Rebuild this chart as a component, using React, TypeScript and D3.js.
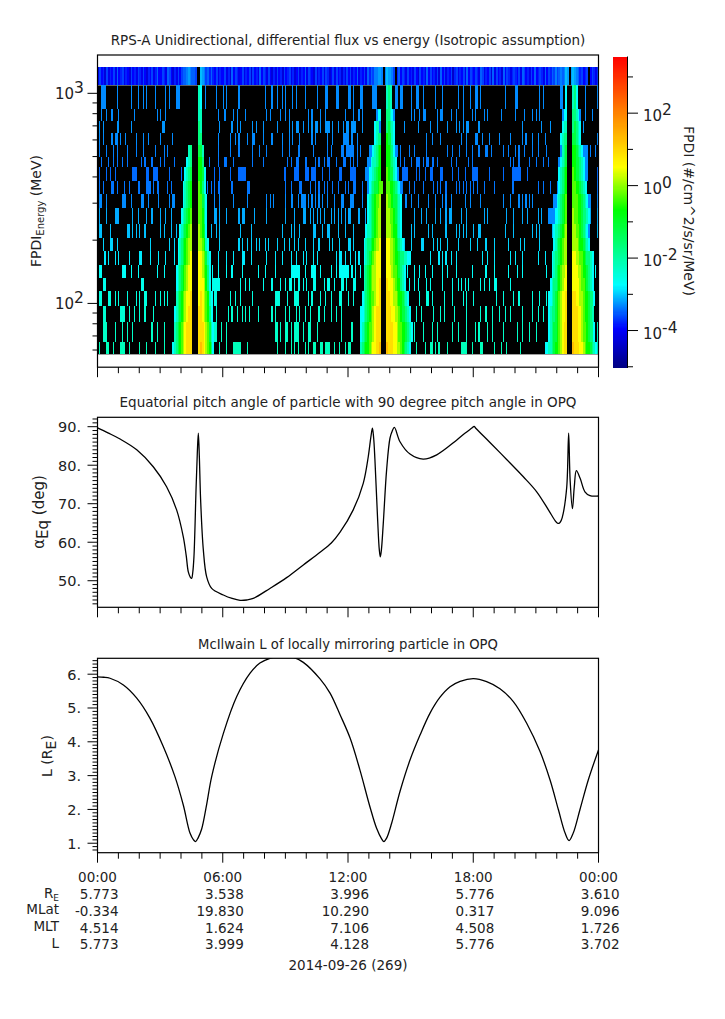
import * as d3 from 'd3'

// time axis, hours of day
const hourTicks = d3.range(0, 25)
const timeLabels = ['00:00', '06:00', '12:00', '18:00', '00:00']
const ephemLabels = ['MLat', 'MLT', 'L']
const ephemRe = ['5.773', '3.538', '3.996', '5.776', '3.610']
const ephemMLat = ['-0.334', '19.830', '10.290', '0.317', '9.096']
const ephemMLT = ['4.514', '1.624', '7.106', '4.508', '1.726']
const ephemL = ['5.773', '3.999', '4.128', '5.776', '3.702']

// energy channel edges in MeV, top to bottom
const energyEdges = [1330, 1091, 839, 736, 645, 566, 496, 444, 381, 330, 283, 240, 204, 177, 153, 131.6, 114, 96.8, 81.2, 65.2, 57.2]
const energyMajor = [1000, 100]
const energyMinor = [900, 800, 700, 600, 500, 400, 300, 200, 90, 80, 70, 60]

// top channel, one char per 5 min bin, per hour
const topChannel = [
  '253415243526', '345243153425', '425314352463', '354265314253', '566787665..9', '875646435243',
  '352416354235', '243515342635', '425314253415', '345241352436', '254315243525', '413525341425',
  '352436243526', '46577887.798', '875.46354253', '425315342635', '342516352435', '045243526354',
  '354265243516', '253416354245', '435265342536', '345426354657', '5676798.8987', '645345.35425',
].join('')

// log10 flux of a single count spike in channels 1..19
const rowFlux = [-3.3, -3.3, -3.25, -3.3, -3.35, -3.4, -3.45, -3.4, -3.3, -3.15, -3.05, -2.95, -2.85, -2.7, -2.6, -2.5, -2.4, -2.3, -2.2]

// 5 min bins holding a count, channels 1..19
const spikeBins: number[][] = [
  [2, 3, 4, 11, 19, 23, 26, 28, 33, 39, 41, 45, 46, 47, 62, 68, 72, 74, 81, 96, 100, 103, 106, 108, 114, 112, 119, 126, 131, 132, 137, 138, 144, 147, 145, 151, 152, 158, 159, 160, 171, 172, 174, 175, 180, 183, 184, 187, 194, 198, 207, 210, 214, 217, 218, 220, 234, 240, 241, 254, 256, 266, 267, 280, 287],
  [2, 5, 8, 12, 21, 34, 36, 39, 69, 73, 78, 80, 85, 97, 99, 105, 108, 110, 121, 123, 128, 131, 142, 147, 150, 152, 180, 182, 185, 187, 188, 195, 197, 198, 203, 206, 210, 215, 217, 222, 224, 232, 240, 245, 250, 252, 254, 280, 284],
  [1, 3, 11, 12, 19, 37, 38, 70, 77, 80, 82, 89, 91, 95, 103, 112, 114, 110, 115, 118, 121, 123, 125, 126, 128, 131, 132, 133, 135, 138, 141, 144, 147, 143, 146, 148, 152, 176, 184, 191, 195, 201, 206, 208, 210, 212, 213, 219, 244, 255, 260, 279],
  [1, 3, 8, 10, 11, 13, 16, 22, 26, 29, 36, 43, 69, 76, 79, 81, 86, 89, 90, 95, 100, 106, 112, 110, 116, 123, 125, 132, 135, 141, 142, 143, 144, 146, 149, 189, 192, 197, 209, 212, 217, 218, 221, 225, 231, 237, 244, 246, 250, 253, 257, 287],
  [1, 5, 9, 11, 17, 22, 26, 33, 38, 40, 69, 76, 81, 89, 93, 97, 106, 110, 115, 116, 124, 132, 134, 141, 143, 145, 146, 147, 140, 144, 149, 151, 172, 174, 179, 182, 189, 201, 204, 208, 212, 215, 219, 223, 224, 226, 233, 236, 240, 242, 245, 250, 253, 258, 283, 286],
  [2, 6, 9, 11, 14, 17, 25, 27, 31, 36, 38, 44, 64, 69, 73, 74, 78, 89, 95, 109, 111, 114, 115, 119, 120, 125, 127, 130, 132, 133, 137, 141, 145, 142, 147, 149, 174, 176, 180, 183, 184, 185, 187, 189, 190, 192, 193, 195, 203, 206, 213, 215, 237, 239, 242, 248, 252, 256, 259],
  [1, 5, 7, 10, 20, 21, 22, 28, 29, 32, 33, 34, 41, 48, 67, 70, 76, 81, 82, 83, 84, 85, 107, 108, 113, 114, 115, 119, 120, 121, 123, 124, 125, 129, 133, 139, 145, 146, 147, 140, 148, 175, 176, 177, 178, 183, 185, 188, 191, 192, 197, 198, 204, 207, 211, 215, 216, 217, 218, 225, 233, 238, 239, 240, 241, 242, 243, 247, 287],
  [1, 3, 8, 9, 11, 15, 18, 23, 24, 28, 29, 30, 32, 34, 35, 40, 42, 63, 65, 67, 69, 70, 77, 86, 87, 108, 111, 116, 117, 122, 125, 127, 130, 132, 135, 138, 142, 144, 147, 148, 152, 174, 175, 179, 182, 187, 193, 195, 197, 200, 206, 208, 210, 212, 214, 216, 218, 222, 228, 238, 239, 253, 256, 260, 287],
  [1, 2, 5, 14, 15, 16, 19, 25, 26, 29, 35, 41, 43, 44, 67, 70, 78, 86, 97, 99, 101, 108, 111, 112, 115, 117, 118, 119, 121, 123, 125, 127, 129, 132, 136, 140, 145, 147, 141, 146, 152, 177, 180, 184, 190, 194, 198, 200, 203, 211, 214, 220, 233, 237, 242, 244, 246, 248, 250, 283, 287],
  [1, 5, 10, 11, 12, 20, 23, 28, 31, 36, 39, 42, 67, 68, 70, 74, 81, 83, 84, 90, 97, 108, 113, 118, 119, 122, 124, 126, 128, 130, 134, 136, 138, 142, 145, 140, 144, 150, 154, 182, 186, 189, 194, 197, 200, 202, 203, 209, 212, 222, 224, 235, 239, 244, 247, 253, 255, 260, 261, 262, 283, 287],
  [1, 2, 7, 17, 18, 20, 22, 24, 27, 36, 38, 42, 45, 65, 68, 70, 82, 88, 106, 111, 113, 116, 124, 125, 129, 132, 133, 138, 142, 147, 180, 182, 190, 192, 200, 206, 208, 210, 212, 216, 219, 220, 234, 239, 250, 252, 254, 261, 287],
  [3, 7, 8, 11, 30, 41, 44, 70, 81, 83, 86, 88, 91, 93, 96, 98, 103, 107, 110, 115, 113, 119, 124, 127, 133, 135, 139, 144, 147, 145, 176, 180, 186, 187, 193, 195, 197, 201, 207, 214, 218, 223, 228, 236, 243, 245, 254],
  [4, 6, 10, 12, 18, 24, 25, 30, 35, 39, 44, 69, 74, 78, 83, 84, 88, 97, 102, 106, 111, 114, 118, 120, 124, 126, 137, 139, 142, 145, 140, 148, 150, 153, 191, 196, 198, 200, 203, 206, 221, 224, 228, 237, 240, 244, 253, 257],
  [1, 2, 14, 15, 16, 19, 23, 34, 38, 66, 69, 74, 77, 83, 92, 96, 102, 112, 113, 114, 115, 116, 111, 119, 123, 124, 125, 128, 134, 137, 141, 142, 143, 146, 139, 140, 144, 148, 151, 178, 182, 185, 188, 192, 198, 201, 206, 215, 223, 228, 236, 241, 244, 258, 286],
  [3, 4, 25, 26, 66, 67, 68, 69, 70, 82, 85, 87, 95, 100, 105, 108, 113, 115, 110, 111, 116, 118, 120, 124, 125, 130, 132, 133, 136, 141, 143, 147, 140, 148, 179, 182, 184, 189, 191, 198, 204, 207, 209, 211, 213, 220, 222, 225, 228, 229, 237],
  [1, 2, 6, 7, 10, 12, 17, 22, 24, 27, 28, 33, 36, 38, 40, 67, 68, 76, 79, 82, 89, 102, 103, 104, 113, 109, 114, 115, 121, 123, 128, 131, 134, 139, 144, 140, 147, 185, 189, 190, 192, 199, 204, 210, 212, 216, 229, 233, 239, 242, 250, 254, 258],
  [3, 4, 13, 14, 15, 18, 21, 24, 27, 32, 68, 75, 77, 80, 83, 85, 87, 92, 100, 102, 108, 114, 110, 116, 119, 122, 127, 130, 134, 137, 140, 183, 186, 193, 197, 199, 205, 212, 220, 223, 227, 231, 234, 237, 244, 250, 253, 256],
  [3, 4, 5, 10, 14, 17, 20, 31, 34, 38, 67, 68, 71, 74, 102, 103, 105, 111, 113, 108, 109, 114, 115, 118, 121, 122, 126, 140, 146, 182, 187, 192, 195, 204, 207, 212, 217, 219, 224, 227, 233, 241, 244, 248, 252, 287],
  [1, 5, 6, 9, 13, 14, 15, 18, 24, 28, 33, 38, 70, 74, 78, 79, 80, 81, 82, 86, 103, 111, 113, 108, 115, 119, 121, 124, 125, 128, 129, 131, 132, 133, 136, 139, 142, 145, 144, 183, 188, 191, 192, 194, 196, 201, 209, 210, 211, 212, 215, 220, 221, 228, 232, 235, 243, 287],
]

// log10 flux for the letters used in the belt runs
const beltLevels: Record<string, number> = { a: -3.3, b: -2.75, c: -2.2, d: -1.7, e: -1.2, f: -0.7, g: -0.3, h: 0.1, i: 0.5, j: 0.9, k: 1.3, l: 1.7 }

// radiation belt passes, [first bin, levels] for channels 1..19
const beltRuns: [number, string][][] = [
  [[58, 'cb'], [166, 'cdc'], [269, 'b'], [273, 'cdb']],
  [[58, 'cc'], [160, 'abb'], [166, 'ddcba'], [267, 'abb'], [273, 'ddcba']],
  [[58, 'dc'], [159, 'bcca'], [166, 'dedcb'], [267, 'bcc'], [273, 'dedcb']],
  [[58, 'dd'], [159, 'bcdd'], [166, 'feecb'], [266, 'bcdd'], [273, 'eedcb']],
  [[52, 'cd'], [58, 'eec'], [156, 'aabcdef'], [166, 'ffedba'], [266, 'acde'], [273, 'ffedcbaaa']],
  [[51, 'bcd'], [58, 'ffd'], [155, 'aabccdef'], [166, 'ffedcb'], [265, 'abcde'], [273, 'ffeedcbaa']],
  [[50, 'bcde'], [58, 'ffeb'], [154, 'aabbcdeff'], [166, 'gfeecba'], [265, 'bcdef'], [273, 'gfeedcbaa']],
  [[49, 'bcdef'], [58, 'gfdb'], [155, 'abcdeefgg'], [166, 'ggffedcba'], [264, 'abcdef'], [273, 'ggffedcb']],
  [[49, 'bcdef'], [58, 'ggedb'], [155, 'bcdefggh'], [166, 'hggfeedcb'], [262, 'aabcdefg'], [273, 'gggffedcba']],
  [[48, 'bcdefg'], [58, 'ggfdb'], [155, 'bcdefghh'], [166, 'hhggfedcb'], [259, 'aaaabbcdefg'], [273, 'hggffeddcb']],
  [[47, 'bcdefgh'], [58, 'hgfeb'], [154, 'bccdefghh'], [166, 'hhhgffdcb'], [262, 'bccdefgh'], [273, 'hhggfedcba']],
  [[46, 'bcdefghh'], [58, 'hhgfcb'], [153, 'bcddefghhi'], [166, 'iihhgfedcb'], [262, 'bcdefghh'], [273, 'hhhgffedcb']],
  [[46, 'bcdefghi'], [58, 'iihgecb'], [153, 'bcdefghiii'], [166, 'iihhgffeddccbb'], [261, 'bcddefghh'], [273, 'iihhggfeddcb']],
  [[45, 'bcdefghii'], [58, 'iihgfdb'], [153, 'cdefghhiii'], [166, 'iiihggfedcb'], [261, 'bcdefghhi'], [273, 'iiihhgffedcb']],
  [[45, 'bcdefghii'], [58, 'iiihfdb'], [153, 'cdefghhiij'], [166, 'jiiihgffdcb'], [260, 'bcddefghii'], [273, 'iiiihggfedcb']],
  [[45, 'cdefghiij'], [58, 'ijihgfcb'], [152, 'bcdefgghiij'], [166, 'jjiihhgffedcb'], [259, 'bbcdefghiij'], [273, 'jjiihhgffeddb']],
  [[44, 'bcdefghijj'], [58, 'jjihgfdb'], [151, 'bbcdefghijjj'], [166, 'jjjiihhgfeedcb'], [259, 'bcddefghiij'], [273, 'jjjiihgffedc']],
  [[44, 'cdefghijjj'], [58, 'jjjihgecb'], [151, 'bcdefgghijjj'], [166, 'jjjjiihggffedcb'], [259, 'bcdeefghijj'], [273, 'jjjiihggfeddb']],
  [[43, 'bcdefghijjj'], [58, 'jkjihgfdb'], [151, 'cdeffghiijjk'], [166, 'kjjjiihhgfedcb'], [257, 'bbccdeffghijj'], [273, 'kjjjiihgffedcb']],
]

// equatorial pitch angle, hours and degrees
const pitchHours = [0, 0.5, 1.08, 1.88, 2.67, 3.31, 3.79, 4.11, 4.25, 4.35, 4.45, 4.51, 4.56, 4.62, 4.72, 4.78, 4.83, 4.88, 4.94, 5.07, 5.23, 5.47, 6.03, 6.45, 6.83, 7.15, 7.46, 8.26, 9.06, 9.86, 10.66, 11.2, 11.62, 12.25, 12.73, 12.97, 13.1, 13.17, 13.23, 13.29, 13.42, 13.5, 13.55, 13.6, 13.69, 13.85, 14.01, 14.12, 14.22, 14.49, 14.97, 15.6, 16.25, 17.2, 17.6, 17.95, 18.04, 18.12, 18.8, 19.6, 20.4, 21.04, 21.6, 21.92, 22.02, 22.11, 22.21, 22.31, 22.48, 22.57, 22.64, 22.75, 22.84, 22.94, 23.12, 23.35, 23.59, 24]
const pitchDeg = [89.7, 88.4, 86.8, 84, 79.6, 74.4, 68.4, 61.4, 56.5, 52.3, 50.9, 50.6, 52, 56.2, 73.6, 83, 88.3, 82, 71, 58, 51, 48, 46.3, 45.4, 44.9, 45, 45.4, 48, 50.8, 54.1, 57.4, 59.8, 62.6, 68.4, 75.3, 82.2, 87.5, 89.6, 87, 81.4, 65.8, 58, 56.2, 58, 64.9, 78.8, 87, 88.9, 89.8, 86.1, 82.9, 81.6, 82.7, 86.5, 88.3, 89.7, 90.1, 89.6, 85.9, 81.5, 77, 73.1, 68.4, 65.6, 65, 64.9, 65.6, 67.5, 74.4, 88.3, 76.2, 68.7, 74.4, 78.6, 76.6, 73.1, 72.1, 72]

// McIlwain L, hours and Earth radii
const lHours = [0, 0.3, 0.6, 1.24, 1.88, 2.51, 3.15, 3.71, 4.11, 4.43, 4.6, 4.7, 4.82, 4.99, 5.23, 5.47, 6.03, 6.67, 7.31, 7.78, 8.26, 8.6, 9.0, 9.38, 9.86, 10.66, 11.14, 11.62, 12.1, 12.57, 13.05, 13.37, 13.61, 13.72, 13.85, 14.09, 14.49, 14.97, 15.45, 15.93, 16.41, 16.89, 17.37, 18.01, 18.64, 19.28, 19.92, 20.56, 21.2, 21.68, 22.08, 22.4, 22.59, 22.79, 23.11, 23.51, 24]
const lValues = [5.92, 5.91, 5.88, 5.68, 5.29, 4.7, 3.86, 2.97, 2.13, 1.3, 1.1, 1.05, 1.16, 1.42, 2.15, 2.97, 4.25, 5.34, 6.03, 6.33, 6.47, 6.52, 6.54, 6.5, 6.35, 5.86, 5.44, 4.8, 4.11, 3.17, 2.08, 1.44, 1.13, 1.05, 1.15, 1.59, 2.53, 3.46, 4.2, 4.85, 5.32, 5.63, 5.79, 5.87, 5.78, 5.57, 5.19, 4.55, 3.71, 2.87, 1.99, 1.3, 1.08, 1.3, 1.99, 2.87, 3.76]

// colour bar
const barDecades = [3, 2, 1, 0, -1, -2, -3, -4, -5]

const FONT = '"DejaVu Sans", sans-serif'
const INK = '#222'

const x = d3.scaleLinear().domain([0, 24]).range([97.5, 598.5])
const yEnergy = d3.scaleLog().domain([49.7, 1522]).range([367.2, 55])
const yPitch = d3.scaleLinear().domain([43.1, 92.44]).range([607.3, 417.3])
const yL = d3.scaleLinear().domain([0.72, 6.47]).range([852.7, 658.3])
const yBar = d3.scaleLinear().domain([-5.02, 3.55]).range([367.5, 57])

const fluxColor = d3.scaleLinear<string>()
  .domain([-5.02, -3.95, -2.75, -0.68, 0.51, 3.55])
  .range(['#000082', '#0000ff', '#00ffff', '#00ff00', '#ffff00', '#ff0000'])
  .clamp(true)

const binToX = (b: number) => x((b * 5) / 60)
const cellWidth = binToX(1) - binToX(0)
const smooth = d3.curveCatmullRom.alpha(0.5)

function Frame({ y0, y1 }: { y0: number; y1: number }) {
  return (
    <g>
      <rect x={x(0)} y={y0} width={x(24) - x(0)} height={y1 - y0} fill="none" stroke="#000" strokeWidth={1.2} />
      {hourTicks.map(h => (
        <line key={h} x1={x(h)} x2={x(h)} y1={y1} y2={y1 + (h % 6 === 0 ? 10 : 6)} stroke="#000" strokeWidth={1} />
      ))}
    </g>
  )
}

function YTicks({ scale, values, size }: { scale: (v: number) => number; values: number[]; size: number }) {
  return (
    <g>
      {values.map(v => (
        <line key={v} x1={x(0) - size} x2={x(0)} y1={scale(v)} y2={scale(v)} stroke="#000" strokeWidth={1} />
      ))}
    </g>
  )
}

function Power({ px, py, exp }: { px: number; py: number; exp: number }) {
  return (
    <text x={px} y={py} fontFamily={FONT} fontSize={15} fill={INK}>
      10<tspan dy={-6} fontSize={15.5}>{exp}</tspan>
    </text>
  )
}

function EnergyPanel() {
  const top = yEnergy(energyEdges[0])
  const second = yEnergy(energyEdges[1])
  const bottom = yEnergy(energyEdges[energyEdges.length - 1])
  return (
    <g>
      <rect x={x(0)} y={second} width={x(24) - x(0)} height={bottom - second} fill="#000" />
      <g shapeRendering="crispEdges">
        {d3.range(288).map(b => {
          const c = topChannel[b]
          const fill = c === '.' ? '#000' : fluxColor(-4.4 + 0.15 * Number(c))
          return <rect key={b} x={binToX(b)} y={top} width={cellWidth + 0.3} height={second - top} fill={fill} />
        })}
        {spikeBins.map((bins, i) => {
          const hit = new Set(bins)
          return (
            <g key={i} fill={fluxColor(rowFlux[i])}>
              {bins.map((b, j) => (
                <rect key={j} x={binToX(b)} y={yEnergy(energyEdges[i + 1])} width={hit.has(b + 1) ? cellWidth + 0.3 : 1.1}
                  height={yEnergy(energyEdges[i + 2]) - yEnergy(energyEdges[i + 1])} />
              ))}
            </g>
          )
        })}
        {beltRuns.map((runs, i) => (
          <g key={i}>
            {runs.map(([start, levels], j) => levels.split('').map((c, k) => (
              <rect key={`${j}-${k}`} x={binToX(start + k)} y={yEnergy(energyEdges[i + 1])} width={cellWidth + 0.3}
                height={yEnergy(energyEdges[i + 2]) - yEnergy(energyEdges[i + 1])} fill={fluxColor(beltLevels[c])} />
            )))}
          </g>
        ))}
      </g>
      <Frame y0={55} y1={367.2} />
      <YTicks scale={yEnergy} values={energyMajor} size={10} />
      <YTicks scale={yEnergy} values={energyMinor} size={5} />
      {energyMajor.map(v => <Power key={v} px={55} py={yEnergy(v) + 6} exp={Math.log10(v)} />)}
      <text transform="translate(41,211) rotate(-90)" textAnchor="middle" fontFamily={FONT} fontSize={14} fill={INK}>
        FPDI<tspan fontSize={10} dy={3}>Energy</tspan><tspan dy={-3}> (MeV)</tspan>
      </text>
    </g>
  )
}

function ColorBar() {
  const steps = d3.range(-5.02, 3.56, 0.03)
  return (
    <g>
      <g shapeRendering="crispEdges">
        {steps.map(v => (
          <rect key={v} x={613} width={14.5} y={yBar(v + 0.03)} height={yBar(v) - yBar(v + 0.03) + 0.4} fill={fluxColor(v)} />
        ))}
      </g>
      <line x1={627.5} x2={627.5} y1={56.5} y2={368} stroke="#000" strokeWidth={1} />
      {barDecades.map(d => (
        <line key={d} x1={627.5} x2={d % 2 === 0 ? 638 : 633} y1={yBar(d)} y2={yBar(d)} stroke="#000" strokeWidth={1} />
      ))}
      {barDecades.filter(d => d % 2 === 0).map(d => <Power key={d} px={643} py={yBar(d) + 8} exp={d} />)}
      <text transform="translate(684,211) rotate(90)" textAnchor="middle" fontFamily={FONT} fontSize={14} fill={INK}>
        FPDI (#/cm^2/s/sr/MeV)
      </text>
    </g>
  )
}

function LinePanel({ y0, y1, scale, hours, values, major, minor, clipId }: {
  y0: number; y1: number; scale: d3.ScaleLinear<number, number>; hours: number[]; values: number[]
  major: number[]; minor: number[]; clipId: string
}) {
  const line = d3.line<number>().x((_, i) => x(hours[i])).y(v => scale(v)).curve(smooth)
  return (
    <g>
      <clipPath id={clipId}><rect x={x(0)} y={y0} width={x(24) - x(0)} height={y1 - y0} /></clipPath>
      <path d={line(values) || ''} fill="none" stroke="#000" strokeWidth={1.3} clipPath={`url(#${clipId})`} />
      <Frame y0={y0} y1={y1} />
      <YTicks scale={scale} values={major} size={10} />
      <YTicks scale={scale} values={minor} size={5} />
      {major.map(v => (
        <text key={v} x={81} y={scale(v) + 5.5} textAnchor="end" fontFamily={FONT} fontSize={14.5} fill={INK}>{v}.</text>
      ))}
    </g>
  )
}

function EphemRow({ py, values }: { py: number; values: string[] }) {
  return (
    <g>
      {values.map((v, i) => (
        <text key={i} x={x(i * 6) + 21} y={py} textAnchor="end" fontFamily={FONT} fontSize={13.5} fill={INK}>{v}</text>
      ))}
    </g>
  )
}

export default function App() {
  const pitchMinor = d3.range(44, 93).filter(v => v % 10 !== 0)
  const lMinor = d3.range(8, 65).map(v => v / 10).filter(v => v % 1 !== 0)
  return (
    <svg width={725} height={1019} style={{ position: 'absolute', left: 0, top: 0, background: '#fff' }}>
      <text x={348} y={45} textAnchor="middle" fontFamily={FONT} fontSize={13.5} fill={INK}>
        RPS-A Unidirectional, differential flux vs energy (Isotropic assumption)
      </text>
      <EnergyPanel />
      <ColorBar />

      <text x={348} y={407} textAnchor="middle" fontFamily={FONT} fontSize={13.5} fill={INK}>
        Equatorial pitch angle of particle with 90 degree pitch angle in OPQ
      </text>
      <LinePanel y0={417.3} y1={607.3} scale={yPitch} hours={pitchHours} values={pitchDeg}
        major={[50, 60, 70, 80, 90]} minor={pitchMinor} clipId="clip-pitch" />
      <text transform="translate(44,512) rotate(-90)" textAnchor="middle" fontFamily={FONT} fontSize={15} fill={INK}>
        α<tspan dy={4}>Eq</tspan><tspan dy={-4}> (deg)</tspan>
      </text>

      <text x={348} y={649} textAnchor="middle" fontFamily={FONT} fontSize={13.2} fill={INK}>
        McIlwain L of locally mirroring particle in OPQ
      </text>
      <LinePanel y0={658.3} y1={852.7} scale={yL} hours={lHours} values={lValues}
        major={[1, 2, 3, 4, 5, 6]} minor={lMinor} clipId="clip-l" />
      <text transform="translate(52,756) rotate(-90)" textAnchor="middle" fontFamily={FONT} fontSize={14} fill={INK}>
        L (R<tspan dy={4}>E</tspan><tspan dy={-4}>)</tspan>
      </text>

      {timeLabels.map((t, i) => (
        <text key={i} x={x(i * 6)} y={882} textAnchor="middle" fontFamily={FONT} fontSize={13.5} fill={INK}>{t}</text>
      ))}
      <text x={59} y={898} textAnchor="end" fontFamily={FONT} fontSize={13.5} fill={INK}>
        R<tspan fontSize={9} dy={3}>E</tspan>
      </text>
      <EphemRow py={899} values={ephemRe} />
      {ephemLabels.map((t, i) => (
        <text key={t} x={59} y={914 + i * 17} textAnchor="end" fontFamily={FONT} fontSize={13.5} fill={INK}>{t}</text>
      ))}
      <EphemRow py={916} values={ephemMLat} />
      <EphemRow py={933} values={ephemMLT} />
      <EphemRow py={949} values={ephemL} />
      <text x={348} y={970} textAnchor="middle" fontFamily={FONT} fontSize={13.5} fill={INK}>2014-09-26 (269)</text>
    </svg>
  )
}
